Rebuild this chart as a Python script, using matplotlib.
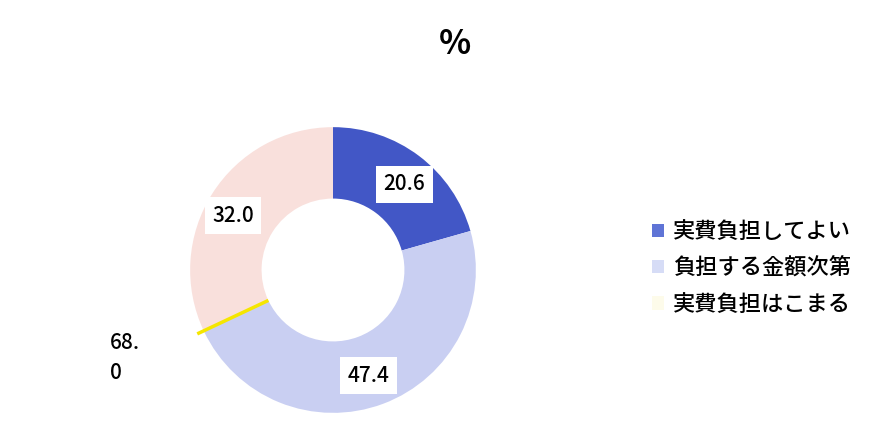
import matplotlib
matplotlib.use("Agg")
import numpy as np
import matplotlib.pyplot as plt
from matplotlib.patches import Patch

plt.rcParams['font.family'] = ['Noto Sans CJK JP', 'DejaVu Sans']
plt.rcParams['font.weight'] = 'medium'

categories = ['実費負担してよい', '負担する金額次第', '実費負担はこまる']
values = [20.6, 47.4, 32.0]
labels = ['20.6', '47.4', '32.0']
cumulative_label = '68.\n0'
colors = ['#4257c6', '#c9cff2', '#f9e0dc']
legend_colors = ['#5f74d6', '#d6dcf6', '#fdfbea']

fig = plt.figure(figsize=(8.94, 4.44), dpi=100)
fig.patch.set_facecolor('white')

ax = fig.add_axes([(333 - 150) / 894, (444 - 270 - 150) / 444, 300 / 894, 300 / 444])

wedges, _ = ax.pie(values, colors=colors, startangle=90, counterclock=False,
                   radius=1.0, wedgeprops=dict(width=0.5, edgecolor='none'))
ax.set_xlim(-1.05, 1.05)
ax.set_ylim(-1.05, 1.05)
ax.set_aspect('equal')
ax.axis('off')

# value labels in white boxes
label_pos = [(0.5, 0.6), (0.25, -0.74), (-0.7, 0.38)]
for (x, y), t in zip(label_pos, labels):
    ax.text(x, y, t, ha='center', va='center', fontsize=15,
            bbox=dict(boxstyle='square,pad=0.35', fc='white', ec='none'))

# yellow marker at cumulative 68.0
cum = values[0] + values[1]
ang = np.deg2rad(90 - cum / 100 * 360)
ax.plot([0.5 * np.cos(ang), 1.05 * np.cos(ang)], [0.5 * np.sin(ang), 1.05 * np.sin(ang)],
        color='#f5e600', lw=2.5, solid_capstyle='butt', clip_on=False)

fig.text(110 / 894, 1 - 358 / 444, cumulative_label, ha='left', va='center',
         fontsize=15, linespacing=1.5)

fig.text(455 / 894, 1 - 45 / 444, '%', ha='center', va='center',
         fontsize=24, fontweight='bold')

handles = [Patch(facecolor=c, edgecolor='none') for c in legend_colors]
fig.legend(handles, categories, loc='center left', bbox_to_anchor=(632 / 894, 1 - 268 / 444),
           frameon=False, fontsize=16, handlelength=0.55, handleheight=0.55,
           handletextpad=0.4, labelspacing=0.6)

fig.savefig('out.png', dpi=100)
